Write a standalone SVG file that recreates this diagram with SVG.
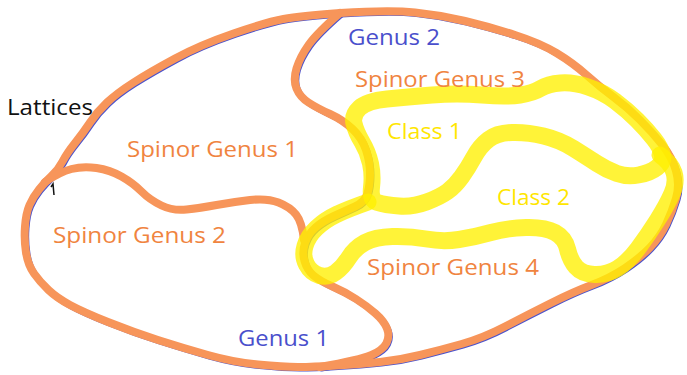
<svg xmlns="http://www.w3.org/2000/svg" width="687" height="375" viewBox="0 0 687 375">
<style>
.blue{fill:none;stroke:#4b52cc;stroke-width:6;stroke-linecap:round;stroke-linejoin:round}
.org{fill:none;stroke:#f7955a;stroke-width:8;stroke-linecap:round;stroke-linejoin:round}
.yel{fill:none;stroke:#fff000;stroke-opacity:0.78;stroke-width:17;stroke-linecap:round;stroke-linejoin:round}
text{font-family:"Open Sans","Liberation Sans",sans-serif;font-size:21px}
.t-org{fill:#f0843f}
.t-blue{fill:#4a4fcc}
.t-yel{fill:#ffe600}
.t-blk{fill:#111}
</style>
<rect width="687" height="375" fill="#fff"/>
<defs>
<path id="outer" d="M340,13 Q390,10 415,12.5 Q440,15 465,21 Q490,27 515,35 Q540,43 556.5,53 Q573,63 586.5,75 Q600,87 613.5,97 Q627,107 639.5,119.5 Q652,132 662,144.5 Q672,157 676,171 Q680,185 676,198.5 Q672,212 666,224.5 Q660,237 650,247.5 Q640,258 625,268 Q610,278 591.5,285 Q573,292 550,303.5 Q527,315 505,326.5 Q483,338 461.5,344 Q440,350 420,355 Q400,360 380,362 Q360,364 336.5,365.5 Q313,367 298,367 Q283,367 258,364.5 Q233,362 208,355 Q183,348 158,340 Q133,332 108,322 Q83,312 70,305 Q57,298 48.5,290 Q40,282 34,273.5 Q28,265 26,252.5 Q24,240 25,226.5 Q26,213 29.5,205 Q33,197 39,189.5 Q45,182 51.5,176 Q58,170 62.5,161.5 Q67,153 75,143 Q83,133 90,122.5 Q97,112 107,102.5 Q117,93 133.5,82.5 Q150,72 175,58.5 Q200,45 233.5,33.5 Q267,22 283.5,19 Q300,16 340,13"/>
<path id="divider" d="M340,13 Q317,33 308.5,45 Q300,57 296.5,68.5 Q293,80 296.5,88.5 Q300,97 308.5,102.5 Q317,108 330,114 Q343,120 352.5,129 Q362,138 366,150 Q370,162 370,173.5 Q370,185 367.5,193.5 Q365,202 355,206.5 Q345,211 334,216 Q323,221 315.5,227.5 Q308,234 305,243 Q302,252 304.5,261 Q307,270 313.5,275.5 Q320,281 332.5,286.5 Q345,292 356,299 Q367,306 375.5,313.5 Q384,321 387,328.5 Q390,336 386.5,343 Q383,350 371.5,355 Q360,360 320,367"/>
</defs>
<g id="connectors">
<g id="genus-lines" transform="translate(1.5,1.5)">
<use href="#outer" class="blue"/>
<use href="#divider" class="blue"/>
</g>
<path id="tick" d="M51,187 L53,184 L54,195" fill="none" stroke="#111" stroke-width="1.5"/>
<g id="spinor-genus-lines">
<use href="#outer" class="org"/>
<use href="#divider" class="org"/>
<path class="org" d="M45,182 Q60,172 71.5,169 Q83,166 96.5,168 Q110,170 121.5,176.5 Q133,183 141.5,191.5 Q150,200 161.5,205.5 Q173,211 186.5,209.5 Q200,208 216.5,205 Q233,202 250,200 Q267,198 278.5,202.5 Q290,207 296,214.5 Q302,222 304,240"/>
</g>
<g id="class-lines">
<path class="yel" d="M377.5,202.5 Q370,200 371.5,187.5 Q373,175 370.5,163.5 Q368,152 362,142 Q356,132 354,123.5 Q352,115 359.5,108 Q367,101 387,99 Q407,97 432,95 Q457,93 482,95 Q507,97 520,95 Q533,93 540.5,88.5 Q548,84 560.5,83 Q573,82 588,87 Q603,92 615,101 Q627,110 637,120 Q647,130 654,139 Q661,148 662.5,155 Q664,162 657,167.5 Q650,173 638.5,175 Q627,177 617,173.5 Q607,170 597,163.5 Q587,157 573.5,148.5 Q560,140 543.5,136 Q527,132 512,132.5 Q497,133 488.5,139.5 Q480,146 474,157 Q468,168 461.5,177 Q455,186 447.5,191.5 Q440,197 426.5,202 Q413,207 399,206 Q385,205 377.5,202.5 Z"/>
<path class="yel" d="M368,202 Q348,209 336.5,214.5 Q325,220 316.5,228 Q308,236 305,246 Q302,256 306.5,264.5 Q311,273 319.5,275.5 Q328,278 335.5,272.5 Q343,267 349,257.5 Q355,248 365,242.5 Q375,237 392.5,236.5 Q410,236 426.5,239 Q443,242 459,239.5 Q475,237 491,232.5 Q507,228 526,227.5 Q545,227 555,232.5 Q565,238 567.5,249 Q570,260 576,267 Q582,274 594.5,274.5 Q607,275 617.5,268.5 Q628,262 638,248.5 Q648,235 657.5,220 Q667,205 672,193.5 Q677,182 674,172.5 Q671,163 660,155"/>
</g>
</g>
<g id="lattices"><text class="t-blk" x="7" y="115" textLength="86" lengthAdjust="spacingAndGlyphs">Lattices</text></g>
<g id="genus1"><text class="t-blue" x="238" y="346" textLength="91" lengthAdjust="spacingAndGlyphs">Genus 1</text></g>
<g id="genus2"><text class="t-blue" x="348" y="45" textLength="92" lengthAdjust="spacingAndGlyphs">Genus 2</text></g>
<g id="spinor1"><text class="t-org" x="127" y="157" textLength="171" lengthAdjust="spacingAndGlyphs">Spinor Genus 1</text></g>
<g id="spinor2"><text class="t-org" x="53" y="243" textLength="173" lengthAdjust="spacingAndGlyphs">Spinor Genus 2</text></g>
<g id="spinor3"><text class="t-org" x="355" y="87" textLength="170" lengthAdjust="spacingAndGlyphs">Spinor Genus 3</text></g>
<g id="spinor4"><text class="t-org" x="367" y="275" textLength="172" lengthAdjust="spacingAndGlyphs">Spinor Genus 4</text></g>
<g id="class1"><text class="t-yel" x="387" y="139" textLength="75" lengthAdjust="spacingAndGlyphs">Class 1</text></g>
<g id="class2"><text class="t-yel" x="497" y="205" textLength="73" lengthAdjust="spacingAndGlyphs">Class 2</text></g>
</svg>
